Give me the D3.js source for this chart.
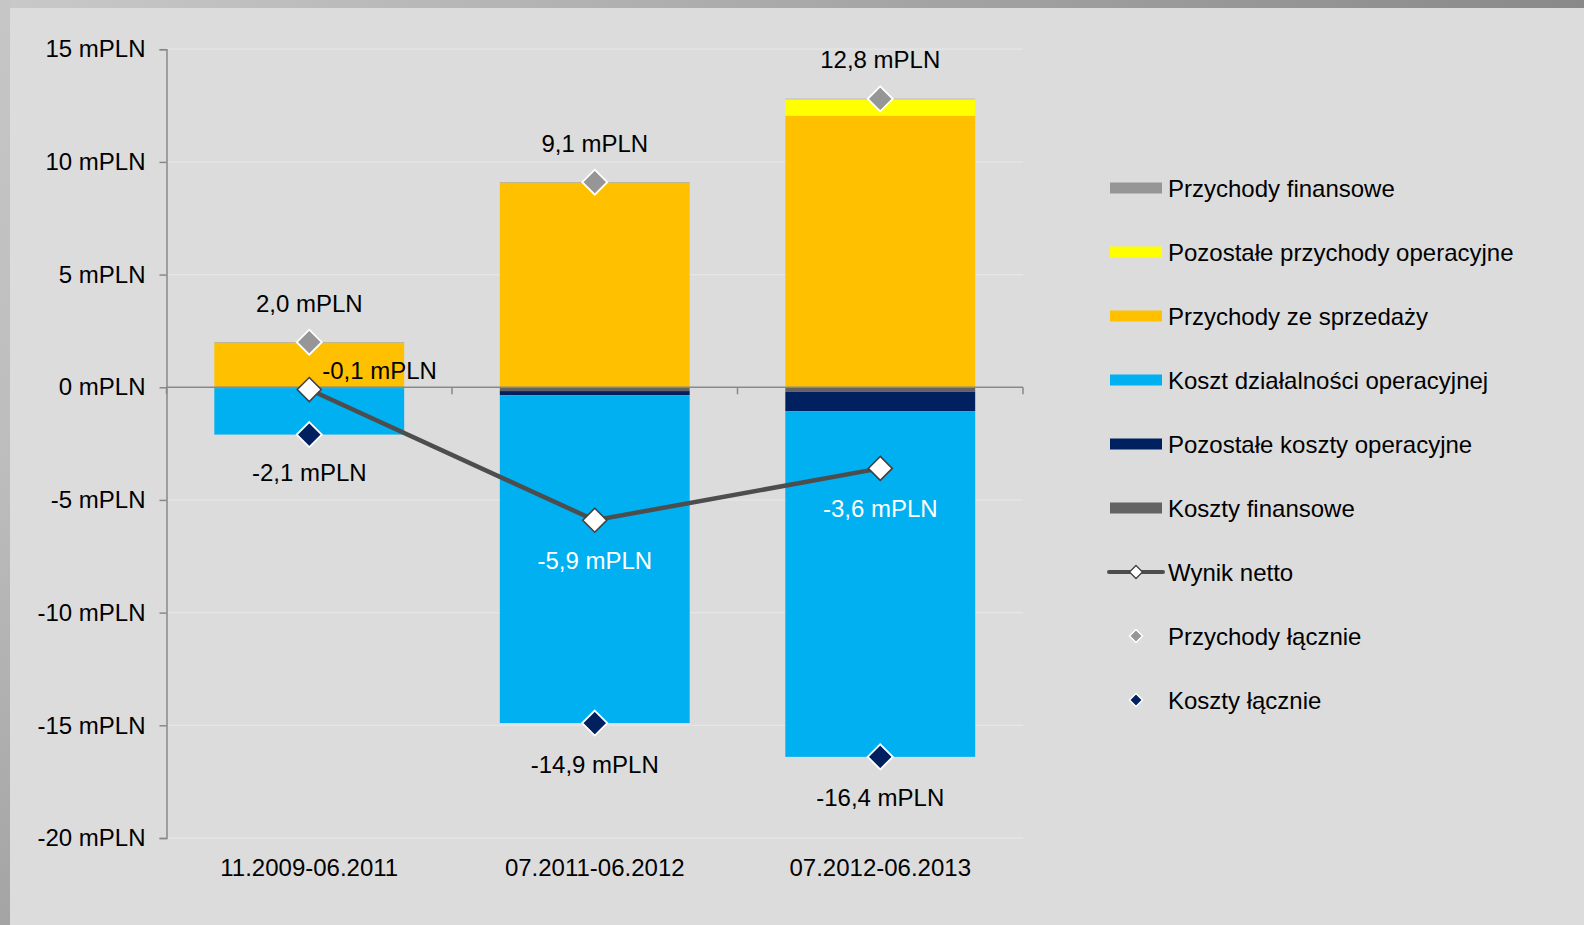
<!DOCTYPE html>
<html><head><meta charset="utf-8">
<script src="https://cdn.jsdelivr.net/npm/d3@7/dist/d3.min.js"></script>
<style>html,body{margin:0;padding:0;background:#dcdcdc;overflow:hidden}svg{display:block}text{font-family:"Liberation Sans",Arial,sans-serif}</style>
</head><body>
<svg id="c" width="1584" height="925"></svg>
<script>
const categories = ["11.2009-06.2011", "07.2011-06.2012", "07.2012-06.2013"];
const kosztyFinansowe = [-0.02, -0.17, -0.20];
const pozostaleKoszty = [-0.02, -0.18, -0.86];
const kosztDzialalnosci = [-2.06, -14.55, -15.34];
const przychodySprzedazy = [1.98, 9.08, 12.05];
const pozostalePrzychody = [0.00, 0.00, 0.73];
const przychodyFinansowe = [0.02, 0.02, 0.02];
const wynikNetto = [-0.1, -5.9, -3.6];
const przychodyLacznie = [2.0, 9.1, 12.8];
const kosztyLacznie = [-2.1, -14.9, -16.4];
const yTicks = [15, 10, 5, 0, -5, -10, -15, -20];

const seriesDefs = [
  {key: "Koszty finansowe", values: kosztyFinansowe, color: "#636363"},
  {key: "Pozostałe koszty operacyjne", values: pozostaleKoszty, color: "#002060"},
  {key: "Koszt działalności operacyjnej", values: kosztDzialalnosci, color: "#00b0f0"},
  {key: "Przychody ze sprzedaży", values: przychodySprzedazy, color: "#ffc000"},
  {key: "Pozostałe przychody operacyjne", values: pozostalePrzychody, color: "#ffff00"},
  {key: "Przychody finansowe", values: przychodyFinansowe, color: "#969696"}
];

const svg = d3.select("#c");
const fmt = v => d3.format(".1f")(v).replace(".", ",").replace("−", "-") + " mPLN";

// frame
const defs = svg.append("defs");
const gt = defs.append("linearGradient").attr("id", "gt").attr("x1", 0).attr("x2", 1).attr("y1", 0).attr("y2", 0);
gt.append("stop").attr("offset", 0).attr("stop-color", "#c9c9c9");
gt.append("stop").attr("offset", 1).attr("stop-color", "#898989");
const gl = defs.append("linearGradient").attr("id", "gl").attr("x1", 0).attr("x2", 0).attr("y1", 0).attr("y2", 1);
gl.append("stop").attr("offset", 0).attr("stop-color", "#c6c6c6");
gl.append("stop").attr("offset", 0.5).attr("stop-color", "#bdbdbd");
gl.append("stop").attr("offset", 1).attr("stop-color", "#a4a4a4");
svg.append("rect").attr("x", 0).attr("y", 0).attr("width", 1584).attr("height", 925).attr("fill", "#dcdcdc");
svg.append("rect").attr("x", 0).attr("y", 0).attr("width", 1584).attr("height", 8).attr("fill", "url(#gt)");
svg.append("rect").attr("x", 0).attr("y", 0).attr("width", 10).attr("height", 925).attr("fill", "url(#gl)");

const x0 = 166.5, x1 = 1023;
const x = d3.scaleBand().domain(categories).range([x0, x1]).paddingInner(0.335).paddingOuter(0.1675);
const y = d3.scaleLinear().domain([-20, 15]).range([838, 49.2]);
const cx = c => x(c) + x.bandwidth() / 2;

// gridlines
svg.append("g").selectAll("line").data(yTicks).join("line")
  .attr("x1", x0).attr("x2", x1).attr("y1", d => y(d)).attr("y2", d => y(d))
  .attr("stroke", "#e6e6e6").attr("stroke-width", 1.3);

// stacked bars
const table = categories.map((c, i) => {
  const o = {cat: c};
  seriesDefs.forEach(s => o[s.key] = s.values[i]);
  return o;
});
const stack = d3.stack().keys(seriesDefs.map(s => s.key)).offset(d3.stackOffsetDiverging);
const stacked = stack(table);
svg.append("g").selectAll("g").data(stacked).join("g")
  .attr("fill", (d, i) => seriesDefs[i].color)
  .selectAll("rect").data(d => d).join("rect")
  .attr("x", d => x(d.data.cat)).attr("width", x.bandwidth())
  .attr("y", d => y(Math.max(d[0], d[1])))
  .attr("height", d => Math.abs(y(d[0]) - y(d[1])));

// y axis
const yAxis = d3.axisLeft(y).tickValues(yTicks).tickSize(7).tickPadding(14).tickFormat(d => d3.format("d")(d).replace("−", "-") + " mPLN");
const ya = svg.append("g").attr("transform", `translate(${x0},0)`).call(yAxis);
ya.select(".domain").attr("stroke", "#888").attr("stroke-width", 1.5);
ya.selectAll(".tick line").attr("stroke", "#888").attr("stroke-width", 1.5);
ya.selectAll(".tick text").attr("font-size", 24).attr("fill", "#000").attr("font-family", "Liberation Sans, Arial, sans-serif");

// x axis at zero
const bounds = [x0, ...categories.map(c => x(c) + x.bandwidth() + x.step() * x.paddingInner() / 2)];
bounds[bounds.length - 1] = x1;
svg.append("line").attr("x1", x0).attr("x2", x1).attr("y1", y(0)).attr("y2", y(0)).attr("stroke", "#888").attr("stroke-width", 1.5);
svg.append("g").selectAll("line").data(bounds).join("line")
  .attr("x1", d => d).attr("x2", d => d).attr("y1", y(0)).attr("y2", y(0) + 7)
  .attr("stroke", "#888").attr("stroke-width", 1.5);
svg.append("g").selectAll("text").data(categories).join("text")
  .attr("x", d => cx(d)).attr("y", 867).attr("text-anchor", "middle").attr("dominant-baseline", "central")
  .attr("font-size", 24).attr("fill", "#000").text(d => d);

// diamond helper
const diamond = r => `M0,${-r}L${r},0L0,${r}L${-r},0Z`;

// net line
const line = d3.line().x((d, i) => cx(categories[i])).y(d => y(d));
svg.append("path").datum(wynikNetto).attr("d", line).attr("fill", "none").attr("stroke", "#4d4d4d").attr("stroke-width", 4.5);

// revenue total markers
svg.append("g").selectAll("path").data(przychodyLacznie).join("path")
  .attr("transform", (d, i) => `translate(${cx(categories[i])},${y(d)})`)
  .attr("d", diamond(12.5)).attr("fill", "#969696").attr("stroke", "#fff").attr("stroke-width", 1.8);
// cost total markers
svg.append("g").selectAll("path").data(kosztyLacznie).join("path")
  .attr("transform", (d, i) => `translate(${cx(categories[i])},${y(d)})`)
  .attr("d", diamond(12.5)).attr("fill", "#002060").attr("stroke", "#fff").attr("stroke-width", 1.8);
// net markers
svg.append("g").selectAll("path").data(wynikNetto).join("path")
  .attr("transform", (d, i) => `translate(${cx(categories[i])},${y(d)})`)
  .attr("d", diamond(12)).attr("fill", "#fff").attr("stroke", "#404040").attr("stroke-width", 1.6);

// labels
svg.append("g").selectAll("text").data(przychodyLacznie).join("text")
  .attr("x", (d, i) => cx(categories[i])).attr("y", d => y(d) - 39)
  .attr("text-anchor", "middle").attr("dominant-baseline", "central").attr("font-size", 24).attr("fill", "#000")
  .text(d => fmt(d));
svg.append("g").selectAll("text").data(kosztyLacznie).join("text")
  .attr("x", (d, i) => cx(categories[i])).attr("y", (d, i) => y(d) + (i === 0 ? 38 : 41))
  .attr("text-anchor", "middle").attr("dominant-baseline", "central").attr("font-size", 24).attr("fill", "#000")
  .text(d => fmt(d));
svg.append("g").selectAll("text").data(wynikNetto).join("text")
  .attr("x", (d, i) => i === 0 ? cx(categories[i]) + 13 : cx(categories[i]))
  .attr("y", (d, i) => i === 0 ? y(d) - 19 : y(d) + 40)
  .attr("text-anchor", (d, i) => i === 0 ? "start" : "middle")
  .attr("dominant-baseline", "central").attr("font-size", 24)
  .attr("fill", (d, i) => i === 0 ? "#000" : "#fff")
  .text(d => fmt(d));

// legend
const legendItems = [
  {label: "Przychody finansowe", type: "bar", color: "#969696"},
  {label: "Pozostałe przychody operacyjne", type: "bar", color: "#ffff00"},
  {label: "Przychody ze sprzedaży", type: "bar", color: "#ffc000"},
  {label: "Koszt działalności operacyjnej", type: "bar", color: "#00b0f0"},
  {label: "Pozostałe koszty operacyjne", type: "bar", color: "#002060"},
  {label: "Koszty finansowe", type: "bar", color: "#636363"},
  {label: "Wynik netto", type: "line"},
  {label: "Przychody łącznie", type: "marker", color: "#969696"},
  {label: "Koszty łącznie", type: "marker", color: "#002060"}
];
const lg = svg.append("g").selectAll("g").data(legendItems).join("g")
  .attr("transform", (d, i) => `translate(1110,${188 + i * 64})`);
lg.filter(d => d.type === "bar").append("rect").attr("x", 0).attr("y", -5.5).attr("width", 52).attr("height", 11).attr("fill", d => d.color);
lg.filter(d => d.type === "line").append("line").attr("x1", -1).attr("x2", 53).attr("y1", 0).attr("y2", 0)
  .attr("stroke", "#4d4d4d").attr("stroke-width", 4).attr("stroke-linecap", "round");
lg.filter(d => d.type === "line").append("path").attr("transform", "translate(26,0)").attr("d", diamond(6.5))
  .attr("fill", "#fff").attr("stroke", "#404040").attr("stroke-width", 1.3);
lg.filter(d => d.type === "marker").append("path").attr("transform", "translate(26,0)").attr("d", diamond(6.5))
  .attr("fill", d => d.color).attr("stroke", "#fff").attr("stroke-width", 1.5);
lg.append("text").attr("x", 58).attr("y", 0).attr("dominant-baseline", "central").attr("font-size", 24).attr("fill", "#000").text(d => d.label);
</script>
</body></html>
